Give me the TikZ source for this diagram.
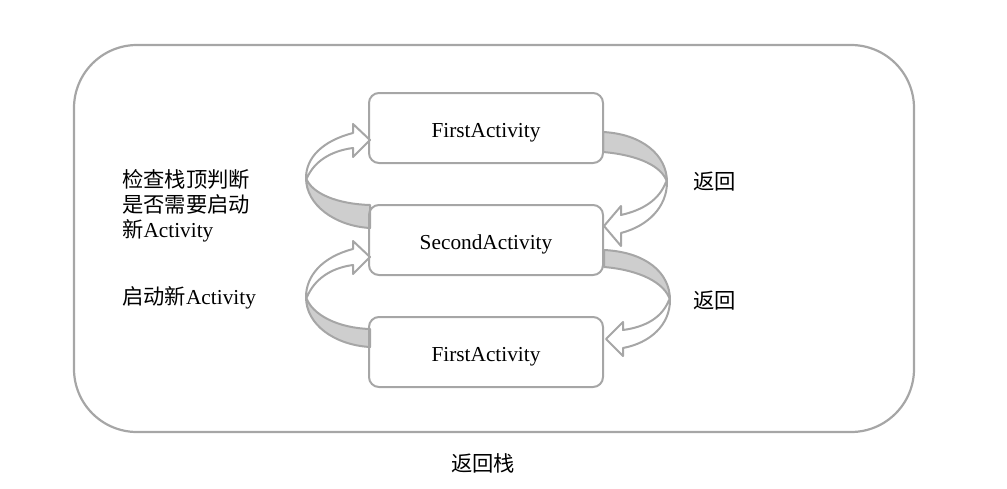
\documentclass[tikz,border=0pt]{standalone}
\usepackage{fontspec}
\setmainfont{Liberation Serif}
\newfontfamily\cjk{Noto Sans CJK SC}
\newcommand\dfont{\fontsize{21.3}{25}\selectfont}
\definecolor{lgray}{RGB}{166,166,166}
\definecolor{sgray}{RGB}{206,206,206}
\begin{document}
\begin{tikzpicture}[x=1pt,y=-1pt,
 line/.style={draw=lgray, line width=2pt, line join=round},
 act/.style={line, rounded corners=10pt, minimum width=234pt, minimum height=70pt, inner sep=0pt, text height=19pt, text depth=0pt, font=\dfont},
 lbl/.style={font=\dfont, inner sep=0pt},
 shade/.style={line, fill=sgray},
 face/.style={line, fill=white}]
\useasboundingbox (0,0) rectangle (1007,488);
\node[draw=lgray, line width=2.2pt, rounded corners=63pt, minimum width=840pt, minimum height=387pt, inner sep=0pt] (stack) at (494,238.5) {};

% left arrow 1
\filldraw[shade] (306,178) .. controls (306,205) and (335,226) .. (370,228) -- (370,205) .. controls (338,204) and (312,194) .. (306,178) -- cycle;
\filldraw[face] (306,178) .. controls (306,158) and (322,141) .. (353,133) -- (353,124) -- (370,140) -- (353,157) -- (353,148) .. controls (330,151) and (314,162) .. (307,178) -- cycle;
% left arrow 2
\filldraw[shade] (306,297) .. controls (306,325) and (335,345) .. (370,347) -- (370,329) .. controls (338,328) and (312,315) .. (306,297) -- cycle;
\filldraw[face] (306,297) .. controls (306,276) and (322,257) .. (353,249) -- (353,241) -- (370,257) -- (353,274) -- (353,265) .. controls (330,268) and (314,280) .. (307,297) -- cycle;
% right arrow 1
\filldraw[shade] (603,132) .. controls (642,134) and (667,155) .. (667,182) .. controls (662,166) and (638,155) .. (603,152) -- cycle;
\filldraw[face] (667,182) .. controls (667,207) and (648,226) .. (621,233) -- (621,246) -- (604,226) -- (621,206) -- (621,215) .. controls (643,210) and (659,200) .. (666,182) -- cycle;
% right arrow 2
\filldraw[shade] (604,250) .. controls (645,252) and (670,272) .. (670,300) .. controls (665,283) and (640,270) .. (604,267) -- cycle;
\filldraw[face] (670,300) .. controls (670,325) and (650,343) .. (623,348) -- (623,356) -- (606,339) -- (623,322) -- (623,330) .. controls (645,327) and (662,318) .. (669,300) -- cycle;

\node[act] (first) at (486,128) {FirstActivity};
\node[act] (second) at (486,240) {SecondActivity};
\node[act] (first2) at (486,352) {FirstActivity};

\node[lbl, anchor=west, align=left] (check) at (122,206) {{\cjk 检查栈顶判断}\\{\cjk 是否需要启动}\\{\cjk 新}Activity};
\node[lbl, anchor=west] (start) at (122,298) {{\cjk 启动新}Activity};
\node[lbl, anchor=west] (back1) at (693,182) {\cjk 返回};
\node[lbl, anchor=west] (back2) at (693,301) {\cjk 返回};
\node[lbl] (stacklbl) at (483,463) {\cjk 返回栈};
\end{tikzpicture}
\end{document}
